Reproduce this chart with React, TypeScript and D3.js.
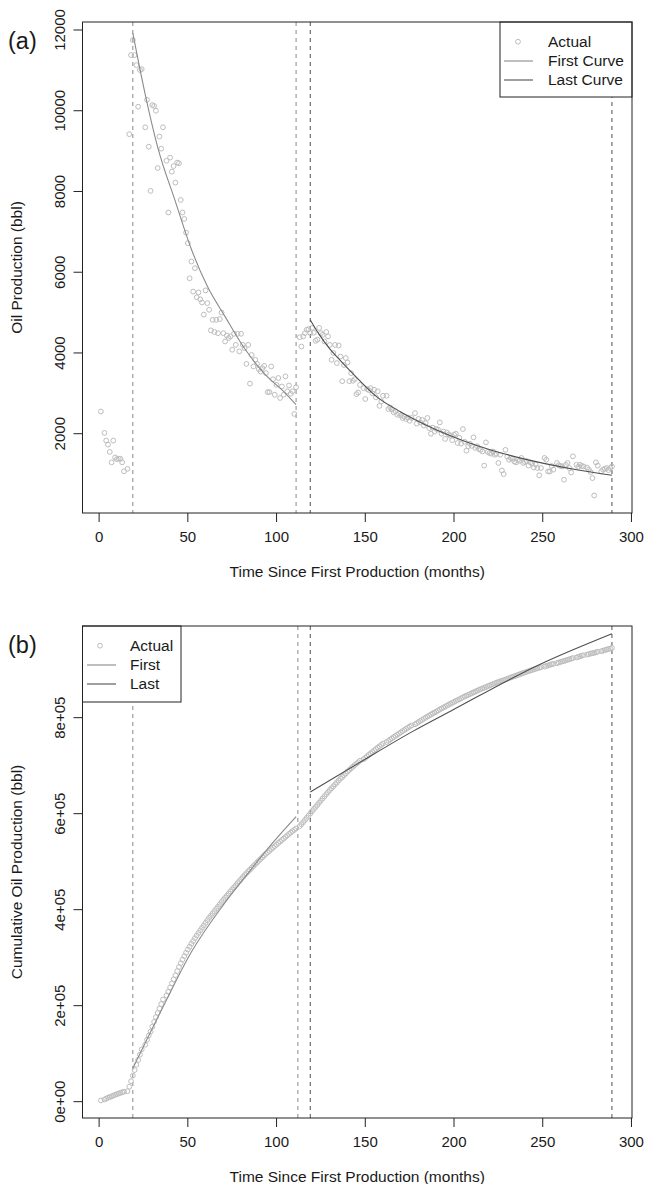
import React from 'react';
import * as d3 from 'd3';

// monthly oil production (bbl), months 1..289 (null = no point read for that month)
const monthlyOil: (number | null)[] = [
  2550, null, 2020, 1830, 1730, 1550, 1290, 1830, 1410, 1370, // 1-10
  1380, 1380, 1290, 1070, null, 1130, 9420, 11380, 11750, 11380, // 11-20
  11130, 10100, 11010, 11030, null, 9590, 10270, 9110, 8015, 10140, // 21-30
  10120, 10000, 8580, 9360, 9060, 9590, null, 8760, 7480, 8840, // 31-40
  8490, 8630, 8220, 8715, 8700, 7790, 7480, 7320, 6980, 6720, // 41-50
  5850, 6265, 5520, 6100, 5380, 5500, 5330, 5250, 4950, 5550, // 51-60
  5235, 5070, 4560, 4820, 4520, 4820, 4490, 4840, 5000, 4490, // 61-70
  4285, 4430, 4370, 4410, 4080, 4475, 4200, 4475, 4040, 4475, // 71-80
  4200, 4120, 3730, 4200, 3240, 3950, 3665, 3830, 3730, 3600, // 81-90
  3540, 3625, 3680, 3500, 3030, 3030, 3665, 3350, 2965, 3210, // 91-100
  3380, 2885, 3170, 2965, 3420, 3050, 3195, 2990, 3050, 2490, // 101-110
  3150, null, 4390, 4160, 4410, 4490, 4575, 4590, 4490, 4620, // 111-120
  4500, 4300, 4330, 4620, 4490, 4450, 4285, 4520, 4410, 4200, // 121-130
  3830, 4000, 4200, 3750, 4185, 3910, 3300, 3700, 3875, 3765, // 131-140
  3300, 3500, 3310, 3350, 2980, 3020, 3210, null, 3130, 2860, // 141-150
  3105, 3080, 3130, 3000, 3090, 2900, 3050, 2690, 2800, 2940, // 151-160
  null, 2940, 2610, 2650, 2600, 2530, 2560, 2470, 2500, 2450, // 161-170
  2390, 2420, 2365, 2400, 2320, 2390, null, 2510, 2250, 2365, // 171-180
  2280, 2340, 2200, 2260, 2390, 2140, 2000, 2150, 2055, 2120, // 181-190
  2100, 2280, 2000, 2055, 1870, 2030, 1980, 1950, 1840, 1975, // 191-200
  2000, 1770, 1900, 1755, 2115, 1800, 1580, 1690, 1750, 1700, // 201-210
  1910, 1650, 1690, 1620, 1600, 1560, 1210, 1785, 1550, 1520, // 211-220
  1505, 1560, 1480, 1505, 1275, 1480, 1090, 1000, 1600, 1430, // 221-230
  1355, 1400, 1380, 1310, 1290, 1350, 1330, 1400, 1275, 1300, // 231-240
  1320, 1210, 1290, 1260, 1165, 1240, 1150, 970, 1150, null, // 241-250
  1400, 1355, 1065, 1065, 1200, 1110, null, 1275, 1220, 1200, // 251-260
  1190, 860, 1230, 1275, 1150, 1040, 1440, null, 1230, 1180, // 261-270
  1230, 1200, 1190, null, 1160, 1110, 1050, 900, 470, 1290, // 271-280
  1210, null, 1065, 1110, 1130, 1150, 1100, 1150, 1190, // 281-289
];
const obs = monthlyOil
  .map((v, i) => ({ month: i + 1, oil: v }))
  .filter((d) => d.oil != null) as { month: number; oil: number }[];
const obsMonths = obs.map((d) => d.month);
const obsOil = obs.map((d) => d.oil);
const cumOil = Array.from(d3.cumsum(obsOil));

// fitted curves
const firstRateX = [19, 26, 33, 43, 52, 61, 71, 82, 93, 105, 111];
const firstRateY = [11920, 10400, 9100, 7750, 6570, 5650, 4900, 4110, 3495, 3000, 2720];
const lastRateX = [119, 124, 130, 136, 147, 156, 170, 185, 198, 212, 226, 240, 254, 270, 289];
const lastRateY = [4820, 4460, 4100, 3810, 3310, 2930, 2540, 2200, 1950, 1720, 1530, 1370, 1235, 1100, 970];
const firstCumX = [19, 35, 52, 70, 85, 98, 111];
const firstCumY = [69400, 190000, 312000, 410000, 481000, 540000, 594000];
const lastCumX = [119, 147, 177, 198, 248, 289];
const lastCumY = [645000, 707000, 772000, 813500, 910500, 975000];

const rateBreaks = [19, 111, 119, 289];
const cumBreaks = [19, 112, 119, 289];
const xTicks = [0, 50, 100, 150, 200, 250, 300];
const rateTicks = [2000, 4000, 6000, 8000, 10000, 12000];
const cumTicks = [0, 200000, 400000, 600000, 800000];
const cumTickLabels = ['0e+00', '2e+05', '4e+05', '6e+05', '8e+05'];

const FONT = '"Liberation Sans", Arial, Helvetica, sans-serif';
const TXT = '#1a1a1a';
const PT = '#bdbdbd';
const FIRST = '#8a8a8a';
const LAST = '#505050';

const left = 82.5;
const right = 632;
const x = d3.scaleLinear().domain([-9.36, 300.3]).range([left, right]);

function Panel(props: any) {
  const { top, bottom, yDomain, yTicks, yLabels, yTitle, letter, ys, fx, fy, lx, ly, breaks, legend } = props;
  const y = d3.scaleLinear().domain(yDomain).range([bottom, top]);
  const line = d3.line<number>().curve(d3.curveMonotoneX);
  const firstPath = line(fx.map((v: number, i: number) => [x(v), y(fy[i])]) as any);
  const lastPath = line(lx.map((v: number, i: number) => [x(v), y(ly[i])]) as any);
  const midY = (top + bottom) / 2;
  const midX = (left + right) / 2;
  const clipId = 'clip' + letter;
  return (
    <g fontFamily={FONT} fill={TXT}>
      <defs>
        <clipPath id={clipId}>
          <rect x={left} y={top} width={right - left} height={bottom - top} />
        </clipPath>
      </defs>
      <text x={8} y={top + 27} fontSize={23.5}>{`(${letter})`}</text>
      <g clipPath={`url(#${clipId})`}>
        {breaks.map((b: number, i: number) => (
          <line key={i} x1={x(b)} x2={x(b)} y1={top} y2={bottom}
            stroke={i < 2 ? FIRST : LAST} strokeDasharray="4,4" strokeWidth={1} />
        ))}
        {obsMonths.map((m, i) => (
          <circle key={i} cx={x(m)} cy={y(ys[i])} r={2.4} fill="none" stroke={PT} strokeWidth={1} />
        ))}
        <path d={firstPath || ''} fill="none" stroke={FIRST} strokeWidth={1.1} />
        <path d={lastPath || ''} fill="none" stroke={LAST} strokeWidth={1.1} />
      </g>
      {/* legend */}
      <rect x={legend.x0} y={top} width={legend.x1 - legend.x0} height={legend.h}
        fill="#fff" stroke="#222" strokeWidth={1} />
      <circle cx={legend.sym} cy={top + 19.7} r={2.4} fill="none" stroke={PT} strokeWidth={1} />
      <line x1={legend.l0} x2={legend.l1} y1={top + 39} y2={top + 39} stroke={FIRST} strokeWidth={1.1} />
      <line x1={legend.l0} x2={legend.l1} y1={top + 58} y2={top + 58} stroke={LAST} strokeWidth={1.1} />
      {legend.labels.map((t: string, i: number) => (
        <text key={t} x={legend.tx} y={top + 25 + i * 19} fontSize={15.5}>{t}</text>
      ))}
      {/* box */}
      <rect x={left} y={top} width={right - left} height={bottom - top} fill="none" stroke="#222" strokeWidth={1} />
      {/* x axis */}
      {xTicks.map((t) => (
        <g key={t}>
          <line x1={x(t)} x2={x(t)} y1={bottom} y2={bottom + 9} stroke="#222" />
          <text x={x(t)} y={bottom + 29} fontSize={15} textAnchor="middle">{t}</text>
        </g>
      ))}
      <text x={midX} y={bottom + 63.5} fontSize={15.5} textAnchor="middle">
        Time Since First Production (months)
      </text>
      {/* y axis */}
      {yTicks.map((t: number, i: number) => (
        <g key={t}>
          <line x1={left - 9} x2={left} y1={y(t)} y2={y(t)} stroke="#222" />
          <text transform={`translate(65,${y(t)}) rotate(-90)`} fontSize={15} textAnchor="middle">
            {yLabels[i]}
          </text>
        </g>
      ))}
      <text transform={`translate(22,${midY}) rotate(-90)`} fontSize={15.5} textAnchor="middle">
        {yTitle}
      </text>
    </g>
  );
}

export default function App() {
  return (
    <svg width={645} height={1184} style={{ position: 'absolute', left: 0, top: 0, background: '#fff' }}>
      <rect width={645} height={1184} fill="#fff" />
      <Panel
        top={22} bottom={513} yDomain={[36, 12198]}
        yTicks={rateTicks} yLabels={rateTicks.map(String)}
        yTitle="Oil Production (bbl)" letter="a" ys={obsOil}
        fx={firstRateX} fy={firstRateY} lx={lastRateX} ly={lastRateY}
        breaks={rateBreaks}
        legend={{ x0: 500, x1: right, h: 75, sym: 518, l0: 504, l1: 533, tx: 548,
          labels: ['Actual', 'First Curve', 'Last Curve'] }}
      />
      <Panel
        top={626} bottom={1118} yDomain={[-34000, 991000]}
        yTicks={cumTicks} yLabels={cumTickLabels}
        yTitle="Cumulative Oil Production (bbl)" letter="b" ys={cumOil}
        fx={firstCumX} fy={firstCumY} lx={lastCumX} ly={lastCumY}
        breaks={cumBreaks}
        legend={{ x0: left, x1: 181, h: 76, sym: 100, l0: 87, l1: 116, tx: 130,
          labels: ['Actual', 'First', 'Last'] }}
      />
    </svg>
  );
}
